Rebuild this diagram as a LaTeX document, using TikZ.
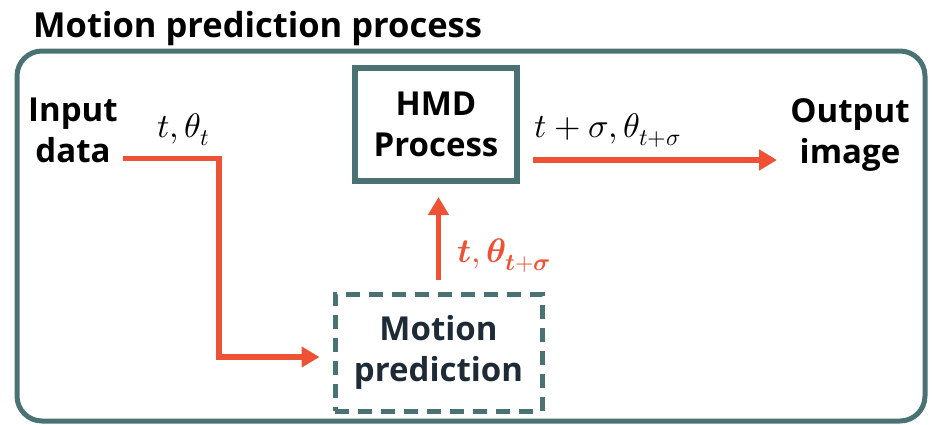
\documentclass[tikz,border=0pt]{standalone}
\usepackage{fontspec}
\usepackage{unicode-math}
\setmainfont{Open Sans}
\setmathfont{Latin Modern Math}
\usetikzlibrary{positioning, arrows.meta}
\definecolor{frameteal}{HTML}{4B7273}
\definecolor{flowred}{HTML}{EE5235}
\definecolor{textnavy}{HTML}{1E2B36}

\begin{document}
\begin{tikzpicture}[x=1pt, y=-1pt,
    box/.style={draw=frameteal, line width=6pt, rectangle, inner sep=0pt, align=center, font=\fontsize{33}{41}\selectfont\bfseries},
    word/.style={inner sep=0pt, align=center, font=\fontsize{33}{41}\selectfont\bfseries},
    flow/.style={color=flowred, line width=5.5pt, -{Triangle[length=18pt, width=20pt]}},
    lbl/.style={anchor=base west, inner sep=0pt, font=\fontsize{34}{40}\selectfont}]
  \useasboundingbox (0,0) rectangle (932,424);
  % frame and title
  \draw [frameteal, line width=5pt, rounded corners=25pt] (17,51) rectangle (925,421);
  \node (title) [word, anchor=base west, font=\fontsize{34.5}{41}\selectfont\bfseries] at (33,37) {Motion prediction process};
  % blocks
  \node (hmd) [box, minimum width=162pt, minimum height=113pt] at (436,124.5) {HMD\\Process};
  \node (motion) [box, line width=5pt, dash pattern=on 14pt off 9pt, text=textnavy, minimum width=207pt, minimum height=117pt] at (438.5,352.5) {Motion\\prediction};
  \node (input) [word] at (73,130) {Input\\data};
  \node (output) [word] at (850,135) {Output\\image};
  % connectors
  \coordinate (bend) at (219,357);
  \coordinate (tip) at (777,160);
  \draw [flow, shorten >=13pt] ([xshift=5pt, yshift=4pt]input.south east) -| (bend) -- (bend -| motion.west);
  \draw [flow, shorten <=11.5pt, shorten >=13pt] (motion.north) -- (motion.north |- hmd.south);
  \draw [flow, shorten <=13pt] (hmd.east |- tip) -- (tip);
  % labels
  \node (lin) [lbl] at (157,137) {$t,\theta_t$};
  \node (lpred) [lbl, text=flowred] at (457,262) {$\symbfit{t},\symbfit{\theta}_{\symbfit{t}+\symbfit{\sigma}}$};
  \node (lout) [lbl] at (534,137) {$t+\sigma,\theta_{t+\sigma}$};
\end{tikzpicture}
\end{document}
